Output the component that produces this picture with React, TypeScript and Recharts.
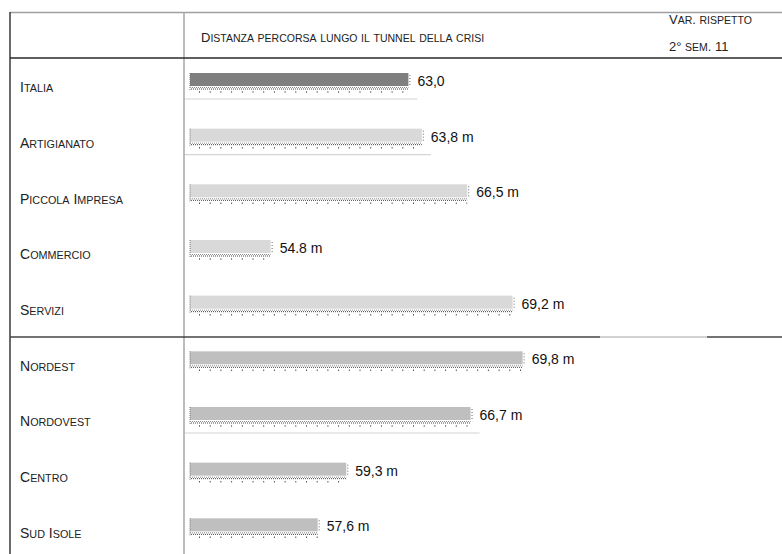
import { Bar, BarChart, Cell, LabelList, XAxis, YAxis } from "recharts";

const categories = [
  "Italia",
  "Artigianato",
  "Piccola Impresa",
  "Commercio",
  "Servizi",
  "Nordest",
  "Nordovest",
  "Centro",
  "Sud Isole",
];
const distances = [63.0, 63.8, 66.5, 54.8, 69.2, 69.8, 66.7, 59.3, 57.6];
const valueLabels = ["63,0", "63,8 m", "66,5 m", "54.8 m", "69,2 m", "69,8 m", "66,7 m", "59,3 m", "57,6 m"];
const groups = ["totale", "settore", "settore", "settore", "settore", "area", "area", "area", "area"];

const groupColors: Record<string, string> = {
  totale: "#7f7f7f",
  settore: "#d9d9d9",
  area: "#bfbfbf",
};

// rows that keep a faint rule under the bar in the original layout
const UNDERLINED = new Set(["Italia", "Artigianato", "Nordovest"]);

const data = categories.map((name, i) => ({
  name,
  value: distances[i],
  label: valueLabels[i],
  group: groups[i],
}));

const FONT = "'Liberation Sans', Arial, sans-serif";

// draws text with small caps made by hand: lower case letters become smaller capitals
function SmallCaps({ x, y, text, big, small }: { x: number; y: number; text: string; big: number; small: number }) {
  const runs: Array<{ t: string; s: boolean }> = [];
  for (const ch of text) {
    const isSmall = ch !== ch.toUpperCase();
    const last = runs[runs.length - 1];
    if (last && last.s === isSmall) last.t += ch;
    else runs.push({ t: ch, s: isSmall });
  }
  return (
    <text x={x} y={y} fontFamily={FONT} fill="#222">
      {runs.map((r, i) => (
        <tspan key={i} fontSize={r.s ? small : big}>
          {r.s ? r.t.toUpperCase() : r.t}
        </tspan>
      ))}
    </text>
  );
}

function RowTick(props: any) {
  const { y, payload } = props;
  return <SmallCaps x={20} y={y + 6.5} text={payload.value} big={14} small={10.8} />;
}

function TunnelBar(props: any) {
  const { x, y, width, fill, payload } = props;
  if (width == null || width <= 0) return null;
  return (
    <g>
      {payload && UNDERLINED.has(payload.name) && (
        <line x1={184} x2={x + width + 9} y1={y + 23} y2={y + 23} stroke="#d4d4d4" strokeWidth={1.2} />
      )}
      <rect x={x} y={y - 3} width={width} height={13} fill={fill} />
      <line x1={x} x2={x} y1={y - 3} y2={y + 14} stroke="#777" strokeDasharray="1 1" />
      <line x1={x + width + 1.5} x2={x + width + 1.5} y1={y - 1} y2={y + 11} stroke="#666" strokeDasharray="1 2" />
      <line x1={x} x2={x + width} y1={y + 11.5} y2={y + 11.5} stroke="#888" strokeDasharray="1 1" />
      <line x1={x} x2={x + width} y1={y + 13} y2={y + 13} stroke="#444" strokeDasharray="1 1" strokeDashoffset={1} />
      <line x1={x} x2={x + width} y1={y + 16} y2={y + 16} stroke="#555" strokeWidth={1.5} strokeDasharray="1 9.7" strokeDashoffset={-9} />
    </g>
  );
}

function ValueLabel(props: any) {
  const { x, y, width, value } = props;
  return (
    <text x={x + width + 9} y={y + 10} fontFamily={FONT} fontSize={14} fill="#111">
      {value}
    </text>
  );
}

export default function App() {
  return (
    <div style={{ position: "absolute", left: 0, top: 0, width: 782, height: 554, overflow: "hidden", background: "#fff" }}>
      <BarChart
        width={782}
        height={559}
        data={data}
        layout="vertical"
        margin={{ top: 58, right: 88, bottom: 0, left: 0 }}
      >
        <XAxis type="number" domain={[50, 80]} hide />
        <YAxis
          type="category"
          dataKey="name"
          width={190}
          axisLine={false}
          tickLine={false}
          tick={<RowTick />}
          interval={0}
        />
        <Bar dataKey="value" barSize={20} shape={<TunnelBar />} isAnimationActive={false}>
          {data.map((d) => (
            <Cell key={d.name} fill={groupColors[d.group]} />
          ))}
          <LabelList dataKey="label" content={<ValueLabel />} />
        </Bar>
      </BarChart>
      <svg width={782} height={554} style={{ position: "absolute", left: 0, top: 0, pointerEvents: "none" }}>
        <line x1={10} x2={782} y1={12.5} y2={12.5} stroke="#a0a0a0" strokeWidth={1.5} />
        <line x1={10} x2={10} y1={12} y2={554} stroke="#3a3a3a" strokeWidth={1.5} />
        <line x1={184} x2={184} y1={12} y2={554} stroke="#a6a6a6" strokeWidth={1.5} />
        <line x1={10} x2={782} y1={58} y2={58} stroke="#2a2a2a" strokeWidth={1.3} />
        <line x1={10} x2={600} y1={337} y2={337} stroke="#444" strokeWidth={1.3} />
        <line x1={600} x2={707} y1={337} y2={337} stroke="#c4c4c4" strokeWidth={1.3} />
        <line x1={707} x2={782} y1={337} y2={337} stroke="#444" strokeWidth={1.3} />
        <SmallCaps x={201} y={41.5} text="Distanza percorsa lungo il tunnel della crisi" big={13} small={10.5} />
        <SmallCaps x={669} y={24} text="Var. rispetto" big={13} small={10.5} />
        <SmallCaps x={669} y={51} text="2° sem. 11" big={13} small={10.5} />
      </svg>
    </div>
  );
}
